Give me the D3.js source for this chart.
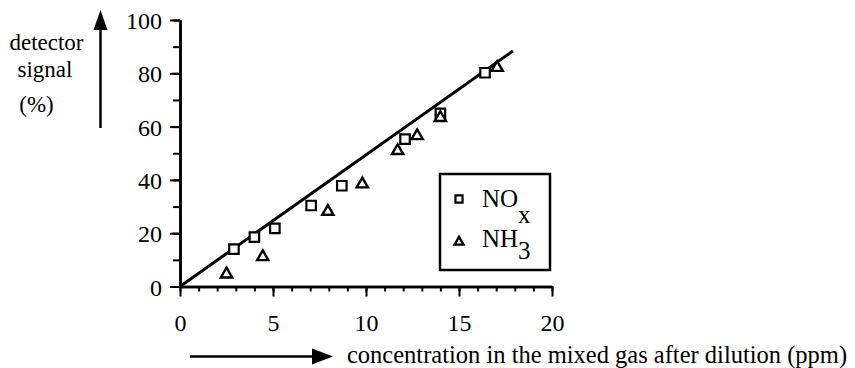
<!DOCTYPE html>
<html>
<head>
<meta charset="utf-8">
<script src="https://cdn.jsdelivr.net/npm/d3@7"></script>
<style>
  html, body { margin: 0; padding: 0; background: #fff; }
  svg { display: block; }
</style>
</head>
<body>
<svg id="chart" width="855" height="368"></svg>
<script>
// Measured detector response versus gas concentration
const noxConc   = [2.9, 4.0, 5.1, 7.05, 8.7, 12.1, 14.0, 16.4];
const noxSignal = [14.0, 18.5, 21.8, 30.4, 37.8, 55.3, 65.0, 80.2];
const nh3Conc   = [2.5, 4.45, 7.95, 9.8, 11.7, 12.75, 14.0, 17.05];
const nh3Signal = [5.0, 11.5, 28.5, 38.8, 51.3, 56.9, 63.7, 82.5];

// Calibration line end points
const fitConc   = [0, 17.9];
const fitSignal = [0, 88.4];

const xMajorTicks = [0, 5, 10, 15, 20];
const yMajorTicks = [0, 20, 40, 60, 80, 100];

const svg = d3.select("#chart");
const ink = "#000";
const serif = "Liberation Serif";

const x = d3.scaleLinear().domain([0, 20]).range([180, 552]);
const y = d3.scaleLinear().domain([0, 100]).range([286.5, 20]);

// Y axis: minor ticks every 10, labelled ticks every 20
const yMinor = d3.axisLeft(y).tickValues(d3.range(0, 101, 10)).tickSize(7).tickSizeOuter(0).tickFormat("");
const yMajor = d3.axisLeft(y).tickValues(yMajorTicks).tickSize(10).tickSizeOuter(0).tickPadding(8).tickFormat(d3.format("d"));
// X axis: minor ticks every 1, labelled ticks every 5
const xMinor = d3.axisBottom(x).tickValues(d3.range(0, 21, 1)).tickSize(5).tickSizeOuter(0).tickFormat("");
const xMajor = d3.axisBottom(x).tickValues(xMajorTicks).tickSize(10).tickSizeOuter(0).tickPadding(17).tickFormat(d3.format("d"));

function styleAxis(g) {
  g.attr("font-family", serif).attr("font-size", 24);
  g.select(".domain").attr("stroke", ink).attr("stroke-width", 2.5);
  g.selectAll(".tick line").attr("stroke", ink).attr("stroke-width", 2);
  g.selectAll(".tick text").attr("font-family", serif).attr("font-size", 24).attr("fill", ink);
}

svg.append("g").attr("transform", `translate(${x(0)},0)`).call(yMinor).call(styleAxis);
svg.append("g").attr("transform", `translate(${x(0)},0)`).call(yMajor).call(styleAxis)
  .selectAll(".tick text").attr("dy", "0.36em");
svg.append("g").attr("transform", `translate(0,${y(0)})`).call(xMinor).call(styleAxis);
svg.append("g").attr("transform", `translate(0,${y(0)})`).call(xMajor).call(styleAxis);

// Calibration line
const line = d3.line().x(d => x(d[0])).y(d => y(d[1]));
svg.append("path")
  .attr("d", line(d3.zip(fitConc, fitSignal)))
  .attr("fill", "none").attr("stroke", ink).attr("stroke-width", 3);

// Markers
const sq = d3.symbol().type(d3.symbolSquare);
const tri = d3.symbol().type(d3.symbolTriangle);

svg.append("g").selectAll("path")
  .data(d3.zip(noxConc, noxSignal))
  .join("path")
  .attr("transform", d => `translate(${x(d[0])},${y(d[1])})`)
  .attr("d", sq.size(90)())
  .attr("fill", "#fff").attr("stroke", ink).attr("stroke-width", 2.2);

svg.append("g").selectAll("path")
  .data(d3.zip(nh3Conc, nh3Signal))
  .join("path")
  .attr("transform", d => `translate(${x(d[0])},${y(d[1]) + 1})`)
  .attr("d", tri.size(55)())
  .attr("fill", "#fff").attr("stroke", ink).attr("stroke-width", 2.4);

// Legend
const legend = svg.append("g");
legend.append("rect").attr("x", 440).attr("y", 174).attr("width", 110).attr("height", 96)
  .attr("fill", "#fff").attr("stroke", ink).attr("stroke-width", 2.5);
legend.append("path").attr("transform", "translate(459,199)").attr("d", sq.size(50)())
  .attr("fill", "#fff").attr("stroke", ink).attr("stroke-width", 2.2);
legend.append("path").attr("transform", "translate(459,242)").attr("d", tri.size(35)())
  .attr("fill", "#fff").attr("stroke", ink).attr("stroke-width", 2.4);
const t1 = legend.append("text").attr("x", 482).attr("y", 207)
  .attr("font-family", serif).attr("font-size", 25).attr("fill", ink);
t1.append("tspan").text("NO");
t1.append("tspan").attr("dy", 16).text("x");
const t2 = legend.append("text").attr("x", 482).attr("y", 247)
  .attr("font-family", serif).attr("font-size", 25).attr("fill", ink);
t2.append("tspan").text("NH");
t2.append("tspan").attr("dy", 12).text("3");

// Axis titles with arrows
const arrowHead = (tipX, tipY, dir) => {
  if (dir === "up") return `M${tipX},${tipY} L${tipX - 7},${tipY + 20} L${tipX + 7},${tipY + 20} Z`;
  return `M${tipX},${tipY} L${tipX - 21},${tipY - 8} L${tipX - 21},${tipY + 8} Z`;
};
svg.append("line").attr("x1", 100.5).attr("y1", 128).attr("x2", 100.5).attr("y2", 25)
  .attr("stroke", ink).attr("stroke-width", 2.5);
svg.append("path").attr("d", arrowHead(100.5, 10, "up")).attr("fill", ink);

svg.append("line").attr("x1", 190).attr("y1", 356.5).attr("x2", 318).attr("y2", 356.5)
  .attr("stroke", ink).attr("stroke-width", 2.5);
svg.append("path").attr("d", arrowHead(333, 356.5, "right")).attr("fill", ink);

const yTitle = svg.append("g").attr("font-family", serif).attr("font-size", 23).attr("fill", ink);
yTitle.append("text").attr("x", 46.5).attr("y", 50).attr("text-anchor", "middle").text("detector");
yTitle.append("text").attr("x", 45).attr("y", 77).attr("text-anchor", "middle").text("signal");
yTitle.append("text").attr("x", 36.5).attr("y", 112).attr("text-anchor", "middle").text("(%)");

svg.append("text").attr("x", 347).attr("y", 363)
  .attr("font-family", serif).attr("font-size", 24.5).attr("fill", ink)
  .text("concentration in the mixed gas after dilution (ppm)");
</script>
</body>
</html>
